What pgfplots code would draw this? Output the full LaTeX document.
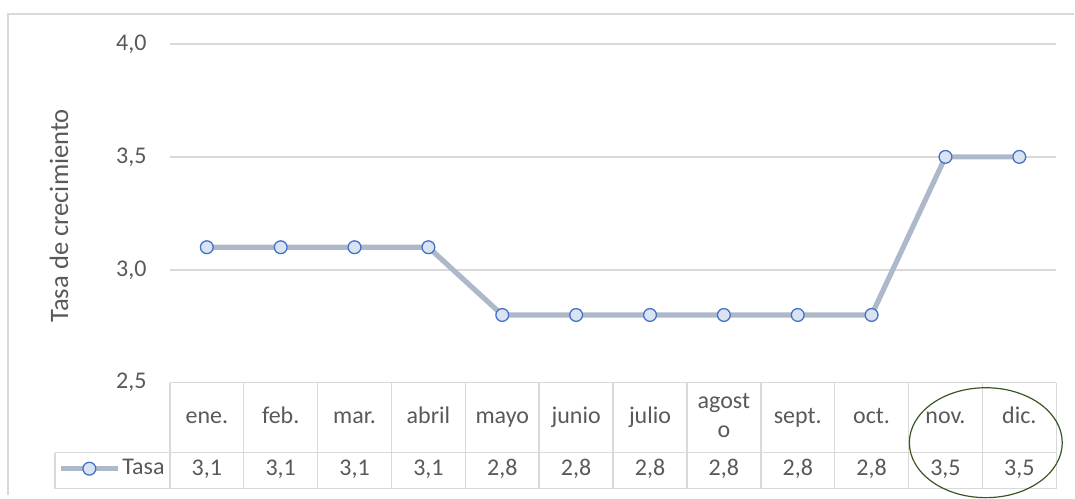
\documentclass[border=0pt]{standalone}
\usepackage{fontspec}
\setmainfont{Carlito}
\usepackage{pgfplots}
\pgfplotsset{compat=1.18}
\definecolor{txtgray}{HTML}{595959}
\definecolor{gridgray}{HTML}{D9D9D9}
\definecolor{lineblue}{HTML}{ADB9CA}
\definecolor{markblue}{HTML}{4472C4}
\definecolor{markfill}{HTML}{DAE3F3}
\definecolor{ellgreen}{HTML}{385723}

\begin{document}
\begin{tikzpicture}
% frame and bounding box, in image pixels (1px = 0.5pt)
\begin{scope}[x=0.5pt,y=-0.5pt]
\path (0,0) rectangle (1075,495);
\draw[gridgray,line width=0.75pt] (8,495) -- (8,14) -- (1075,14);
\end{scope}

\begin{axis}[
    at={(85pt,-191.5pt)}, anchor=south west,
    scale only axis, width=443.5pt, height=169.5pt,
    xmin=-0.5, xmax=11.5, ymin=2.5, ymax=4.0,
    xtick=\empty, ytick={2.5,3,3.5,4},
    ymajorgrids, grid style={gridgray,line width=0.75pt},
    axis line style={draw=none}, major tick length=0pt,
    yticklabel style={font=\fontsize{12}{14}\selectfont,text=txtgray,inner sep=0pt,xshift=-11.5pt},
    /pgf/number format/.cd, fixed, fixed zerofill, precision=1, use comma, assume math mode=true,
    /pgfplots/.cd,
    clip=false,
    legend style={at={(-0.1263,-0.2537)},anchor=west,draw=none,fill=none,inner sep=0pt,
      nodes={inner sep=1pt},font=\fontsize{12}{14}\selectfont,text=txtgray},
    legend image code/.code={\draw[mark repeat=2,mark phase=2] plot coordinates {(0cm,0cm) (0.5cm,0cm) (1cm,0cm)};},
]
\addplot[color=lineblue,line width=2.6pt,mark=*,mark size=3.2pt,
    mark options={draw=markblue,fill=markfill,line width=0.65pt}]
  coordinates {(0,3.1) (1,3.1) (2,3.1) (3,3.1) (4,2.8) (5,2.8) (6,2.8) (7,2.8) (8,2.8) (9,2.8) (10,3.5) (11,3.5)};
\addlegendentry{Tasa}
\end{axis}

% data table below the plot
\begin{scope}[x=0.5pt,y=-0.5pt]
\draw[gridgray,line width=0.75pt] (55,453) -- (1057,453) (55,489) -- (1057,489) (55,453) -- (55,489);
\foreach \k in {0,...,12} \draw[gridgray,line width=0.75pt] (170+73.917*\k,383) -- (170+73.917*\k,489);
\begin{scope}[every node/.style={anchor=base,inner sep=0pt,text=txtgray,font=\fontsize{12}{14}\selectfont}]
\foreach \n [count=\i from 0] in {ene.,feb.,mar.,abril,mayo,junio,julio,,sept.,oct.,nov.,dic.}
  \node at (206.96+73.917*\i,424) {\n};
\node at (206.96+73.917*7,409) {agost};
\node at (206.96+73.917*7,438) {o};
\foreach \v [count=\i from 0] in {{3,1},{3,1},{3,1},{3,1},{2,8},{2,8},{2,8},{2,8},{2,8},{2,8},{3,5},{3,5}}
  \node at (206.96+73.917*\i,476) {\v};
\end{scope}
\node[rotate=90,text=txtgray,font=\fontsize{13.3}{15}\selectfont] at (59,216) {Tasa de crecimiento};
\draw[ellgreen,line width=0.6pt] (986.5,443) ellipse [x radius=76.5,y radius=55];
\end{scope}
\end{tikzpicture}
\end{document}
